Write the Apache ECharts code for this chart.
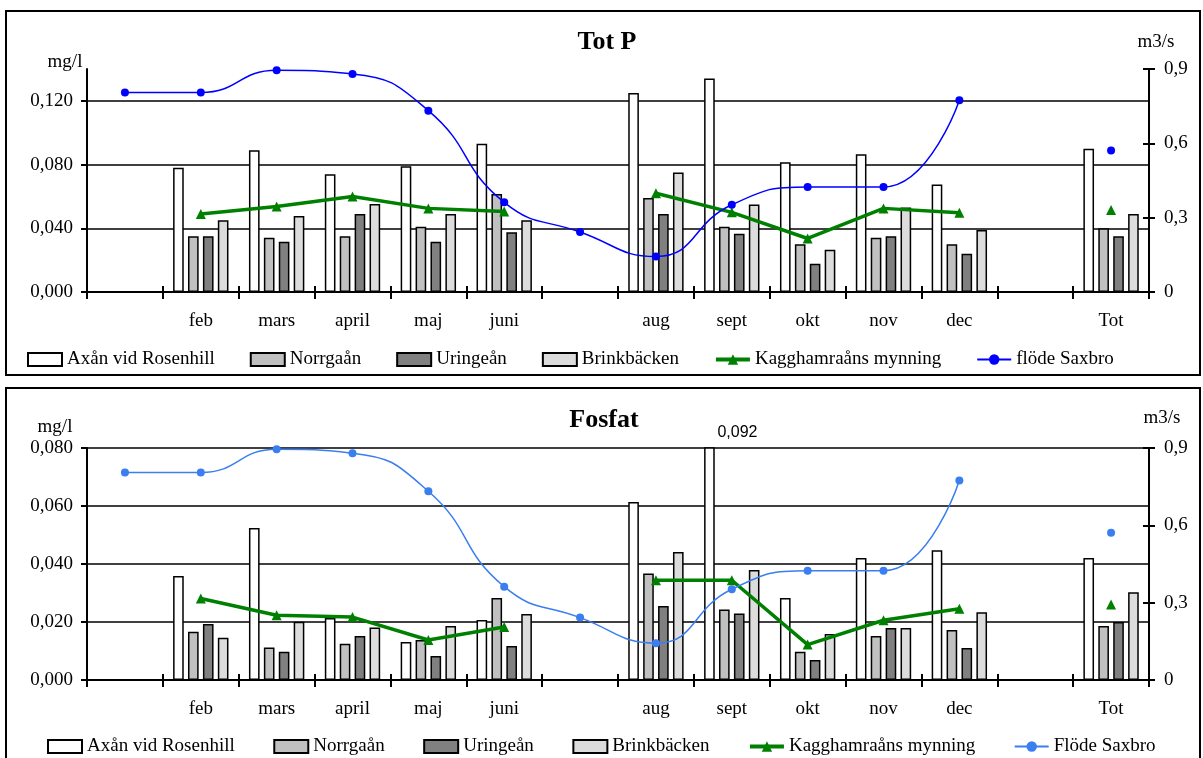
<!DOCTYPE html>
<html>
<head>
<meta charset="utf-8">
<title>Tot P / Fosfat</title>
<script src="https://cdn.jsdelivr.net/npm/echarts@6/dist/echarts.min.js"></script>
<style>
  html, body { margin: 0; padding: 0; background: #fff; }
  #main { width: 1203px; height: 758px; }
</style>
</head>
<body>
<div id="main"></div>
<script>
// ============ data ============
var months = ['', 'feb', 'mars', 'april', 'maj', 'juni', '', 'aug', 'sept', 'okt', 'nov', 'dec', '', 'Tot'];

// Tot P (mg/l)
var totpAxan  = [null, 0.078, 0.089, 0.074, 0.079, 0.093, null, 0.125, 0.134, 0.0815, 0.0865, 0.0675, null, 0.090];
var totpNorrg = [null, 0.035, 0.034, 0.035, 0.041, 0.0615, null, 0.059, 0.041, 0.030, 0.034, 0.030, null, 0.040];
var totpUring = [null, 0.035, 0.0315, 0.049, 0.0315, 0.0375, null, 0.049, 0.0365, 0.0177, 0.035, 0.024, null, 0.035];
var totpBrink = [null, 0.045, 0.0477, 0.0552, 0.049, 0.045, null, 0.075, 0.055, 0.0265, 0.053, 0.039, null, 0.049];
var totpKagg  = [null, 0.049, 0.0537, 0.060, 0.0525, 0.0506, null, 0.062, 0.050, 0.0336, 0.0525, 0.0498, null, 0.0515];

// Fosfat (mg/l)
var fosAxan  = [null, 0.0359, 0.0524, 0.0214, 0.0131, 0.0207, null, 0.0614, 0.092, 0.0283, 0.0421, 0.0447, null, 0.0421];
var fosNorrg = [null, 0.0166, 0.0112, 0.0125, 0.0138, 0.0283, null, 0.0367, 0.0243, 0.0097, 0.0152, 0.0172, null, 0.0186];
var fosUring = [null, 0.0193, 0.0097, 0.0152, 0.0083, 0.0117, null, 0.0255, 0.0229, 0.0069, 0.0179, 0.011, null, 0.020];
var fosBrink = [null, 0.0146, 0.0201, 0.0181, 0.0186, 0.0228, null, 0.0441, 0.0379, 0.0159, 0.0179, 0.0234, null, 0.0303];
var fosKagg  = [null, 0.0281, 0.0223, 0.0217, 0.0138, 0.0183, null, 0.0344, 0.0344, 0.0122, 0.0206, 0.0246, null, 0.026];

// flöde Saxbro (m3/s)
var flodeSaxbro = [0.805, 0.805, 0.895, 0.880, 0.732, 0.362, 0.242, 0.143, 0.352, 0.424, 0.424, 0.774, null, 0.571];

// left ticks of the Tot P panel (axis runs a bit higher, to 0,14)
var totpTicks = [0, 0.04, 0.08, 0.12];

// ============ helpers ============
var serif = 'Liberation Serif';
var txt = { fontFamily: serif, fontSize: 19, color: '#000' };

function komma(v, d) {
	if (v === 0) return d === 1 ? '0' : '0,000';
	return v.toFixed(d).replace('.', ',');
}

function xAxes(g) {
	return [{
		gridIndex: g, type: 'category', data: months, boundaryGap: true, position: 'bottom',
		axisLine: { onZero: false, lineStyle: { color: '#000', width: 2 } },
		axisTick: { show: true, length: 7, lineStyle: { color: '#000', width: 2 } },
		axisLabel: Object.assign({ margin: 20, interval: 0 }, txt),
		splitLine: { show: false }
	}, {
		// ticks going up through the axis
		gridIndex: g, type: 'category', data: months, boundaryGap: true, position: 'bottom',
		axisLine: { show: false, onZero: false },
		axisTick: { show: true, inside: true, length: 6, lineStyle: { color: '#000', width: 2 } },
		axisLabel: { show: false },
		splitLine: { show: false }
	}];
}

function yAxes(g, max, interval) {
	var left = {
		gridIndex: g, type: 'value', position: 'left', min: 0, max: max, interval: interval,
		axisLine: { show: true, lineStyle: { color: '#000', width: 2 } },
		axisTick: { show: true, length: 6, lineStyle: { color: '#000', width: 2 } },
		axisLabel: Object.assign({ margin: 14, formatter: function (v) {
			return v > 0.13 ? '' : komma(v, 3);
		} }, txt),
		splitLine: { show: true, showMinLine: false, lineStyle: { color: '#000', width: 1.5 } }
	};
	if (g === 0) left.axisTick.customValues = totpTicks;
	return [left, {
		gridIndex: g, type: 'value', position: 'right', min: 0, max: 0.9, interval: 0.3,
		axisLine: { show: true, lineStyle: { color: '#000', width: 2 } },
		axisTick: { show: true, length: 6, lineStyle: { color: '#000', width: 2 } },
		axisLabel: Object.assign({ margin: 15, formatter: function (v) { return komma(v, 1); } }, txt),
		splitLine: { show: false }
	}, {
		gridIndex: g, type: 'value', position: 'right', min: 0, max: 0.9, interval: 0.3,
		axisLine: { show: false },
		axisTick: { show: true, inside: true, length: 6, lineStyle: { color: '#000', width: 2 } },
		axisLabel: { show: false },
		splitLine: { show: false }
	}];
}

function barSerie(name, data, color, g, max) {
	return {
		name: name, type: 'bar', xAxisIndex: g * 2, yAxisIndex: g * 3,
		barCategoryGap: '27%', barGap: '40%',
		itemStyle: { color: color, borderColor: '#000', borderWidth: 1.5 },
		data: data.map(function (v) {
			// value beyond the axis -> clipped bar with its value written beside it
			if (v !== null && v > max) {
				return { value: v, label: { show: true, position: 'top', offset: [28, -2],
					fontFamily: 'Liberation Sans', fontSize: 16, color: '#000',
					formatter: function (p) { return komma(p.value, 3); } } };
			}
			return v;
		})
	};
}

function lineSerie(name, data, g) {
	return {
		name: name, type: 'line', xAxisIndex: g * 2, yAxisIndex: g * 3,
		symbol: 'triangle', symbolSize: 10,
		itemStyle: { color: '#008000' },
		lineStyle: { color: '#008000', width: 3.5 },
		data: data, z: 4
	};
}

function flodeSerie(name, data, g, color) {
	return {
		name: name, type: 'line', xAxisIndex: g * 2, yAxisIndex: g * 3 + 1,
		smooth: true, symbol: 'circle', symbolSize: 8,
		itemStyle: { color: color },
		lineStyle: { color: color, width: 1.5 },
		data: data, z: 5
	};
}

function legendData(flodeName) {
	var box = function (n) { return { name: n, icon: 'rect', itemStyle: { borderColor: '#000', borderWidth: 2 } }; };
	return [box('Axån vid Rosenhill'), box('Norrgaån'), box('Uringeån'), box('Brinkbäcken'),
		{ name: 'Kagghamraåns mynning', lineStyle: { width: 4 } }, { name: flodeName, lineStyle: { width: 2 } }];
}

// ============ chart ============
var myChart = echarts.init(document.getElementById('main'));
var option = {
	animation: false,
	backgroundColor: '#fff',
	grid: [
		{ left: 87, top: 69, width: 1062, height: 223 },
		{ left: 87, top: 448, width: 1062, height: 232 }
	],
	xAxis: xAxes(0).concat(xAxes(1)),
	yAxis: yAxes(0, 0.14, 0.04).concat(yAxes(1, 0.08, 0.02)),
	legend: [
		{ left: 22, top: 345, itemGap: 35, itemWidth: 34, itemHeight: 13, textStyle: txt, data: legendData('flöde Saxbro') },
		{ left: 42, top: 732, itemGap: 38.5, itemWidth: 34, itemHeight: 13, textStyle: txt, data: legendData('Flöde Saxbro') }
	],
	graphic: [
		// panel frames
		{ type: 'rect', shape: { x: 6, y: 11, width: 1194, height: 364 }, style: { fill: 'none', stroke: '#000', lineWidth: 2 }, z: 0 },
		{ type: 'rect', shape: { x: 6, y: 388, width: 1194, height: 380 }, style: { fill: 'none', stroke: '#000', lineWidth: 2 }, z: 0 },
		// titles
		{ type: 'text', x: 607, y: 42, style: { text: 'Tot P', font: 'bold 26px "Liberation Serif"', fill: '#000', textAlign: 'center', textVerticalAlign: 'middle' } },
		{ type: 'text', x: 604, y: 420, style: { text: 'Fosfat', font: 'bold 26px "Liberation Serif"', fill: '#000', textAlign: 'center', textVerticalAlign: 'middle' } },
		// units
		{ type: 'text', x: 65, y: 62, style: { text: 'mg/l', font: '19px "Liberation Serif"', fill: '#000', textAlign: 'center', textVerticalAlign: 'middle' } },
		{ type: 'text', x: 1156, y: 42, style: { text: 'm3/s', font: '19px "Liberation Serif"', fill: '#000', textAlign: 'center', textVerticalAlign: 'middle' } },
		{ type: 'text', x: 55, y: 427, style: { text: 'mg/l', font: '19px "Liberation Serif"', fill: '#000', textAlign: 'center', textVerticalAlign: 'middle' } },
		{ type: 'text', x: 1162, y: 418, style: { text: 'm3/s', font: '19px "Liberation Serif"', fill: '#000', textAlign: 'center', textVerticalAlign: 'middle' } }
	],
	series: [
		barSerie('Axån vid Rosenhill', totpAxan, '#ffffff', 0, 0.14),
		barSerie('Norrgaån', totpNorrg, '#c0c0c0', 0, 0.14),
		barSerie('Uringeån', totpUring, '#808080', 0, 0.14),
		barSerie('Brinkbäcken', totpBrink, '#dcdcdc', 0, 0.14),
		lineSerie('Kagghamraåns mynning', totpKagg, 0),
		flodeSerie('flöde Saxbro', flodeSaxbro, 0, '#0000ff'),

		barSerie('Axån vid Rosenhill', fosAxan, '#ffffff', 1, 0.08),
		barSerie('Norrgaån', fosNorrg, '#c0c0c0', 1, 0.08),
		barSerie('Uringeån', fosUring, '#808080', 1, 0.08),
		barSerie('Brinkbäcken', fosBrink, '#dcdcdc', 1, 0.08),
		lineSerie('Kagghamraåns mynning', fosKagg, 1),
		flodeSerie('Flöde Saxbro', flodeSaxbro, 1, '#3a7ef0')
	]
};
myChart.setOption(option);
</script>
</body>
</html>
